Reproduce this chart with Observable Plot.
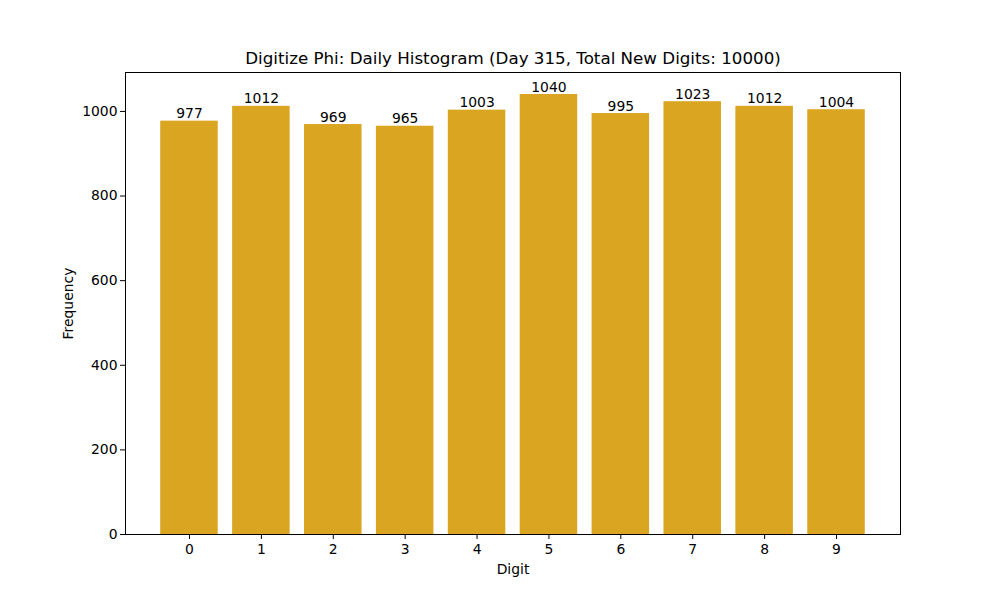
<!DOCTYPE html>
<html>
<head>
<meta charset="utf-8">
<script src="https://cdn.jsdelivr.net/npm/d3@7"></script>
<script src="https://cdn.jsdelivr.net/npm/@observablehq/plot@0.6"></script>
<style>
  body { margin: 0; background: #fff; }
  svg { font-family: "DejaVu Sans", sans-serif; }
</style>
</head>
<body>
<div id="chart"></div>
<script>
const digits = ["0", "1", "2", "3", "4", "5", "6", "7", "8", "9"];
const counts = [977, 1012, 969, 965, 1003, 1040, 995, 1023, 1012, 1004];
const yTicks = [0, 200, 400, 600, 800, 1000];
const title = "Digitize Phi: Daily Histogram (Day 315, Total New Digits: 10000)";

const data = digits.map((d, i) => ({digit: d, count: counts[i]}));
const yMax = d3.max(counts) * 1.05;

const chart = Plot.plot({
  width: 1000,
  height: 600,
  marginTop: 72,
  marginBottom: 66,
  marginLeft: 125,
  marginRight: 100,
  style: {fontFamily: "DejaVu Sans, sans-serif", fontSize: "13.9px", color: "#000", background: "#fff"},
  x: {domain: digits, paddingInner: 0.2, paddingOuter: 0.49, align: 0.5, round: false},
  y: {domain: [0, yMax]},
  marks: [
    Plot.barY(data, {x: "digit", y: "count", fill: "#DAA520"}),
    Plot.text(data, {x: "digit", y: "count", text: d => String(d.count), lineAnchor: "bottom", dy: -3, fontSize: 13.9, fill: "#000"}),
    Plot.axisX({tickSize: 5, tickPadding: 5, fontSize: 13.9, label: "Digit", labelAnchor: "center", labelArrow: "none", labelOffset: 39}),
    Plot.axisY({ticks: yTicks, tickFormat: d => String(d), tickSize: 5, tickPadding: 3, fontSize: 13.9, label: "Frequency", labelAnchor: "center", labelArrow: "none", labelOffset: 62}),
    Plot.frame({stroke: "#000", strokeWidth: 1}),
    Plot.text([title], {frameAnchor: "top", dy: -9, lineAnchor: "bottom", fontSize: 16.7, fill: "#000", text: d => d})
  ]
});
document.getElementById("chart").appendChild(chart);
</script>
</body>
</html>
